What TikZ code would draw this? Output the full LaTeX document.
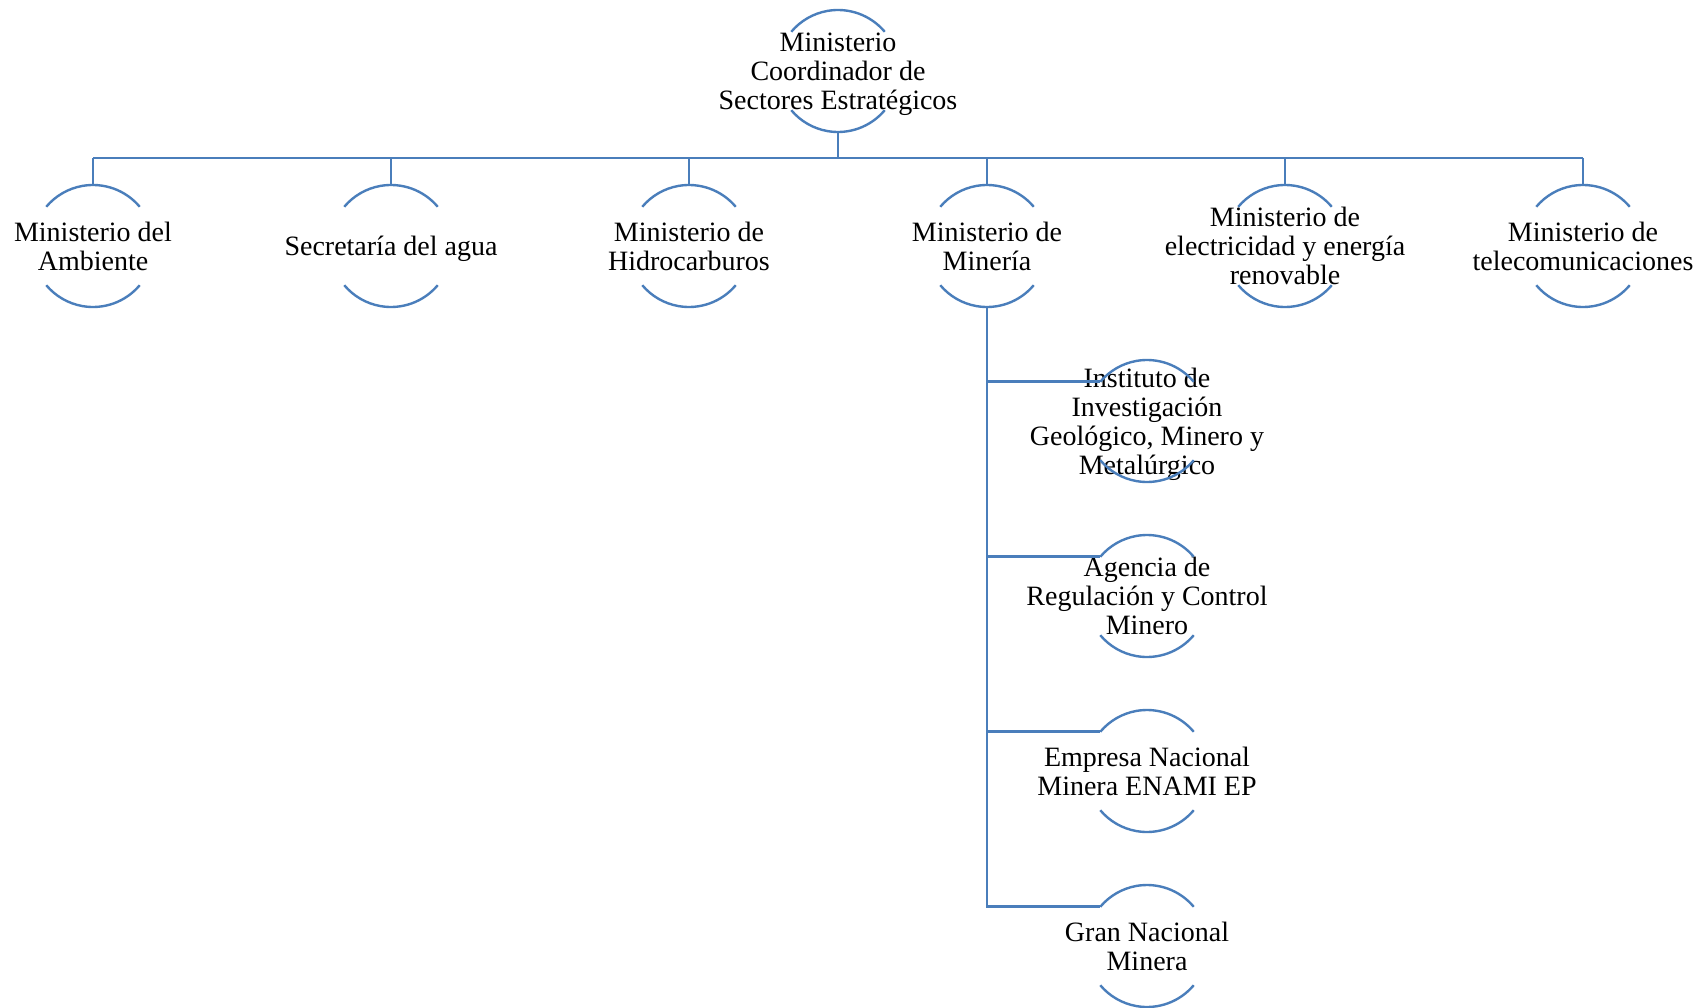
\documentclass[tikz,border=0pt]{standalone}
\usepackage{fontspec}
\setmainfont{Liberation Serif}
\definecolor{lineblue}{RGB}{74,126,187}
\begin{document}
\begin{tikzpicture}[x=1pt,y=-1pt,
  lbl/.style={align=center, font=\fontsize{28}{29}\selectfont, inner sep=0pt},
  ln/.style={draw=lineblue, line width=2.6pt},
  arcln/.style={draw=lineblue, line width=2.4pt}]
\newcommand\orbarcs[1]{%
  \draw[arcln] ([shift={(40:61pt)}]#1.center) arc[start angle=40, end angle=140, radius=61pt];
  \draw[arcln] ([shift={(-40:61pt)}]#1.center) arc[start angle=-40, end angle=-140, radius=61pt];}
\useasboundingbox (0,0) rectangle (1699,1008);
% nodes
\node[lbl] (top) at (838,74) {Ministerio\\Coordinador de\\Sectores Estratégicos};
\node[lbl] (n1) at (93,246) {Ministerio del\\Ambiente};
\node[lbl] (n2) at (391,249) {Secretaría del agua};
\node[lbl] (n3) at (689,246) {Ministerio de\\Hidrocarburos};
\node[lbl] (n4) at (987,246) {Ministerio de\\Minería};
\node[lbl] (n5) at (1285,246) {Ministerio de\\electricidad y energía\\renovable};
\node[lbl] (n6) at (1583,246) {Ministerio de\\telecomunicaciones};
\node[lbl] (s1) at (1147,424) {Instituto de\\Investigación\\Geológico, Minero y\\Metalúrgico};
\node[lbl] (s2) at (1147,596) {Agencia de\\Regulación y Control\\Minero};
\node[lbl] (s3) at (1147,771) {Empresa Nacional\\Minera ENAMI EP};
\node[lbl] (s4) at (1147,946) {Gran Nacional\\Minera};
% circle centres
\foreach \n/\x/\y in {top/838/71,n1/93/246,n2/391/246,n3/689/246,n4/987/246,n5/1285/246,n6/1583/246,s1/1147/421,s2/1147/596,s3/1147/771,s4/1147/946}{\coordinate (\n-c) at (\x,\y);}
% arcs
\foreach \n in {top,n1,n2,n3,n4,n5,n6,s1,s2,s3,s4}{\orbarcs{\n-c}}
% connectors
\coordinate (bus) at (838,158);
\draw[ln] ([yshift=-61pt]top-c) -- (bus);
\draw[ln] (n1-c |- bus) -- (n6-c |- bus);
\foreach \n in {n1,n2,n3,n4,n5,n6}{\draw[ln] (\n-c |- bus) -- ([yshift=61pt]\n-c);}
\foreach \n in {s1,s2,s3,s4}{\coordinate (\n-in) at ([shift={(140:61pt)}]\n-c);}
\draw[ln] ([yshift=-61pt]n4-c) |- (s4-in);
\foreach \n in {s1,s2,s3}{\draw[ln] (n4-c |- \n-in) -- (\n-in);}
\end{tikzpicture}
\end{document}
